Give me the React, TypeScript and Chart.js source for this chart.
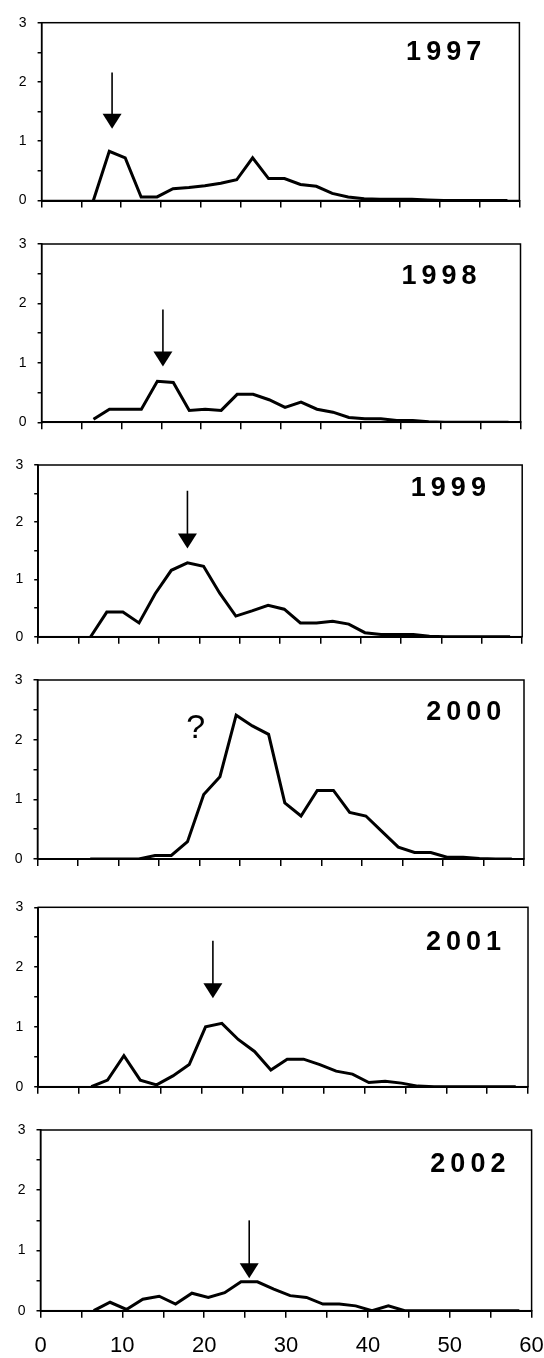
import React, { useEffect, useRef } from 'react';
import { Chart, registerables } from 'chart.js';

Chart.register(...registerables);

// ---- data ----
const sizeClasses = [6.5, 8.5, 10.5, 12.5, 14.5, 16.5, 18.5, 20.5, 22.5, 24.5, 26.5, 28.5, 30.5, 32.5, 34.5, 36.5, 38.5, 40.5, 42.5, 44.5, 46.5, 48.5, 50.5, 52.5, 54.5, 56.5, 58.5];

const y1997 = [0, 0.83, 0.72, 0.06, 0.06, 0.2, 0.22, 0.25, 0.29, 0.35, 0.72, 0.37, 0.37, 0.27, 0.24, 0.12, 0.06, 0.03, 0.02, 0.02, 0.02, 0.01, 0, 0, 0, 0, 0];
const y1998 = [0.05, 0.22, 0.22, 0.22, 0.69, 0.67, 0.2, 0.22, 0.2, 0.47, 0.47, 0.38, 0.25, 0.34, 0.22, 0.17, 0.08, 0.06, 0.06, 0.03, 0.03, 0.01, 0, 0, 0, 0, 0];
const y1999 = [0, 0.43, 0.43, 0.24, 0.75, 1.16, 1.29, 1.23, 0.76, 0.36, 0.45, 0.55, 0.48, 0.24, 0.24, 0.27, 0.22, 0.07, 0.04, 0.04, 0.04, 0.01, 0, 0, 0, 0, 0];
const y2000 = [0, 0, 0, 0, 0.06, 0.06, 0.29, 1.08, 1.38, 2.41, 2.23, 2.09, 0.94, 0.72, 1.15, 1.15, 0.78, 0.72, 0.46, 0.2, 0.11, 0.11, 0.03, 0.03, 0.01, 0, 0];
const y2001 = [0, 0.11, 0.52, 0.11, 0.03, 0.18, 0.37, 1.0, 1.06, 0.79, 0.59, 0.28, 0.46, 0.46, 0.37, 0.26, 0.21, 0.07, 0.09, 0.06, 0.01, 0, 0, 0, 0, 0, 0];
const y2002 = [0, 0.14, 0.02, 0.19, 0.24, 0.11, 0.29, 0.22, 0.3, 0.48, 0.48, 0.36, 0.25, 0.22, 0.11, 0.11, 0.08, 0, 0.08, 0, 0, 0, 0, 0, 0, 0, 0];

const years = ['1997', '1998', '1999', '2000', '2001', '2002'];
const seriesByYear = [y1997, y1998, y1999, y2000, y2001, y2002];

const xTickLabels = ['0', '10', '20', '30', '40', '50', '60'];
const yTickLabels = ['0', '1', '2', '3'];

// annotations (data units)
const yearLabelRightX = [55.2, 54.5, 55.5, 57.2, 56.7, 56.8];
const yearLabelY = [2.49, 2.46, 2.58, 2.45, 2.41, 2.42];
const arrowX = [8.85, 15.2, 18.5, null, 21.4, 25.5];
const arrowTop = [2.16, 1.9, 2.55, null, 2.44, 1.5];
const arrowTip = [1.21, 0.94, 1.54, null, 1.48, 0.54];
const questionMark = '?';
const questionX = [null, null, null, 19.5, null, null];
const questionY = [null, null, null, 2.18, null, null];

// ---- layout (pixels) ----
const panelBoxes = [
  { left: 41.6, right: 519.4, top: 22.7, bottom: 200.5 },
  { left: 41.6, right: 520.5, top: 244, bottom: 422.3 },
  { left: 38.2, right: 522.2, top: 465, bottom: 636.7 },
  { left: 37.5, right: 524, top: 680, bottom: 859 },
  { left: 38.2, right: 528, top: 907.3, bottom: 1086.7 },
  { left: 40.5, right: 531.6, top: 1130, bottom: 1310.7 },
];

const FONT = '"Liberation Sans", Arial, Helvetica, sans-serif';
const W = 544;

const notesPlugin = {
  id: 'panelNotes',
  afterDatasetsDraw(chart: any, _args: any, opts: any) {
    const { ctx, chartArea, scales } = chart;
    const xs = scales.x;
    const ys = scales.y;
    ctx.save();
    ctx.strokeStyle = '#000';
    ctx.fillStyle = '#000';
    ctx.lineWidth = 1.5;
    ctx.strokeRect(chartArea.left, chartArea.top, chartArea.right - chartArea.left, chartArea.bottom - chartArea.top);

    // year label with letter spacing
    ctx.font = `bold 27px ${FONT}`;
    ctx.textBaseline = 'middle';
    ctx.textAlign = 'left';
    const chars = String(opts.year).split('');
    const sp = 5;
    const widths = chars.map((c: string) => ctx.measureText(c).width);
    const total = widths.reduce((a: number, b: number) => a + b, 0) + sp * (chars.length - 1);
    let px = xs.getPixelForValue(opts.yearRight) - total;
    const py = ys.getPixelForValue(opts.yearY);
    chars.forEach((c: string, i: number) => {
      ctx.fillText(c, px, py);
      px += widths[i] + sp;
    });

    if (opts.arrowX != null) {
      const ax = xs.getPixelForValue(opts.arrowX);
      const at = ys.getPixelForValue(opts.arrowTop);
      const ap = ys.getPixelForValue(opts.arrowTip);
      const hh = 15;
      const hw = 9.5;
      ctx.lineWidth = 1.6;
      ctx.beginPath();
      ctx.moveTo(ax, at);
      ctx.lineTo(ax, ap - hh + 1);
      ctx.stroke();
      ctx.beginPath();
      ctx.moveTo(ax - hw, ap - hh);
      ctx.lineTo(ax + hw, ap - hh);
      ctx.lineTo(ax, ap);
      ctx.closePath();
      ctx.fill();
    }
    if (opts.markX != null) {
      ctx.font = `34px ${FONT}`;
      ctx.textAlign = 'center';
      ctx.textBaseline = 'middle';
      ctx.fillText(opts.mark, xs.getPixelForValue(opts.markX), ys.getPixelForValue(opts.markY));
    }
    ctx.restore();
  },
};

function Panel({ idx }: { idx: number }) {
  const ref = useRef<HTMLCanvasElement | null>(null);
  const box = panelBoxes[idx];
  const isLast = idx === panelBoxes.length - 1;
  const xh = isLast ? 47 : 20;
  const padTop = 16;
  const canvasTop = Math.floor(box.top) - padTop;
  const height = Math.ceil(box.bottom) + xh - canvasTop;
  const xAxisH = height - (box.bottom - canvasTop);
  const topPad = box.top - canvasTop;

  useEffect(() => {
    if (!ref.current) return;
    const data = sizeClasses.map((x, i) => ({ x, y: seriesByYear[idx][i] }));
    const chart = new Chart(ref.current, {
      type: 'line',
      data: {
        datasets: [
          {
            data,
            borderColor: '#000',
            borderWidth: 3,
            pointRadius: 0,
            tension: 0,
            fill: false,
            borderJoinStyle: 'miter',
          } as any,
        ],
      },
      options: {
        responsive: false,
        animation: false,
        devicePixelRatio: 1,
        events: [],
        layout: { padding: { top: topPad, left: 0, right: W - box.right, bottom: 0 } },
        plugins: {
          legend: { display: false },
          tooltip: { enabled: false },
          panelNotes: {
            year: years[idx],
            yearRight: yearLabelRightX[idx],
            yearY: yearLabelY[idx],
            arrowX: arrowX[idx],
            arrowTop: arrowTop[idx],
            arrowTip: arrowTip[idx],
            mark: questionMark,
            markX: questionX[idx],
            markY: questionY[idx],
          },
        } as any,
        scales: {
          x: {
            type: 'linear',
            min: 0,
            max: 60,
            afterFit: (s: any) => {
              s.height = xAxisH;
              s.paddingLeft = 0;
              s.paddingRight = 0;
            },
            ticks: {
              stepSize: 5,
              autoSkip: false,
              maxRotation: 0,
              color: '#000',
              padding: 15,
              font: { family: FONT, size: 22 },
              callback: (v: any) => (isLast && xTickLabels.includes(String(v)) ? String(v) : ''),
            },
            grid: { drawOnChartArea: false, drawTicks: true, tickLength: 7, color: '#000', lineWidth: 1.5 },
            border: { color: '#000', width: 2 },
          },
          y: {
            min: 0,
            max: 3,
            afterFit: (s: any) => {
              s.width = box.left;
              s.paddingTop = 0;
              s.paddingBottom = 0;
            },
            ticks: {
              stepSize: 0.5,
              autoSkip: false,
              color: '#000',
              padding: 11,
              font: { family: FONT, size: 14 },
              callback: (v: any) => (yTickLabels.includes(String(v)) ? String(v) : ''),
            },
            grid: { drawOnChartArea: false, drawTicks: true, tickLength: 4, color: '#000', lineWidth: 1.5 },
            border: { color: '#000', width: 1.5 },
          },
        },
      } as any,
      plugins: [notesPlugin as any],
    });
    return () => chart.destroy();
  }, [idx]);

  return (
    <canvas
      ref={ref}
      width={W}
      height={height}
      style={{ position: 'absolute', left: 0, top: canvasTop, width: W, height, display: 'block' }}
    />
  );
}

export default function App() {
  return (
    <div style={{ position: 'absolute', left: 0, top: 0, width: W, height: 1358, background: '#fff' }}>
      {panelBoxes.map((_, i) => (
        <Panel key={i} idx={i} />
      ))}
    </div>
  );
}
